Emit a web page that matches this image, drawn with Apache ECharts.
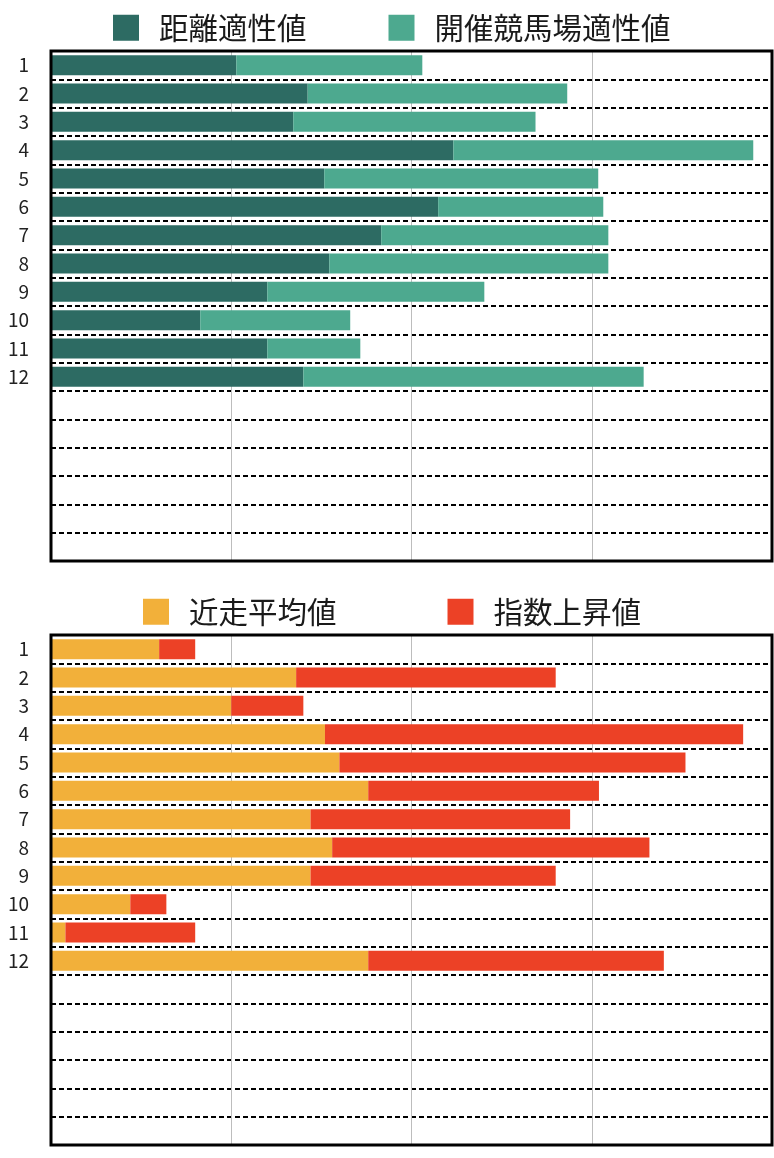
<!DOCTYPE html>
<html>
<head>
<meta charset="utf-8">
<script src="https://cdn.jsdelivr.net/npm/echarts@6/dist/echarts.min.js"></script>
<style>
html,body{margin:0;padding:0;background:#fff;}
#c{width:774px;height:1158px;}
</style>
</head>
<body>
<div id="c"></div>
<script>
// ---- data ----
var categories = ['1','2','3','4','5','6','7','8','9','10','11','12','','','','','',''];
var seriesNamesTop = ['距離適性値','開催競馬場適性値'];
var seriesNamesBottom = ['近走平均値','指数上昇値'];
var distanceFit = [25.7,35.6,33.6,55.8,37.9,53.7,45.8,38.6,30.0,20.7,30.0,35.0];
var courseFit   = [25.8,36.0,33.6,41.6,38.0,22.9,31.5,38.7,30.1,20.8,12.9,47.2];
var recentAvg   = [15,34,25,38,40,44,36,39,36,11,2,44];
var indexRise   = [5,36,10,58,48,32,36,44,34,5,18,41];
var xTicks = [0,25,50,75,100];

var colors = ['#2d6b63','#4da98f','#f2b03a','#ec4126'];
var font = '"Noto Sans CJK JP","Noto Sans",sans-serif';

function yAxis(gi){
  return {
    type:'category', gridIndex:gi, data:categories, inverse:true,
    axisLine:{show:false}, axisTick:{show:false},
    axisLabel:{color:'#222', fontSize:19, fontFamily:font, margin:22},
    splitLine:{show:true, lineStyle:{color:'#000', width:2, type:[5,3]}}
  };
}
function xAxis(gi){
  return {
    type:'value', gridIndex:gi, min:xTicks[0], max:xTicks[xTicks.length-1],
    interval:xTicks[1]-xTicks[0],
    axisLine:{show:false}, axisTick:{show:false}, axisLabel:{show:false},
    splitLine:{show:true, lineStyle:{color:'#bdbdbd', width:1}}
  };
}
function legend(names, left, top, gap){
  return {
    data:names, left:left, top:top, orient:'horizontal', padding:0,
    itemWidth:26, itemHeight:26, itemGap:gap, icon:'rect',
    selectedMode:false,
    textStyle:{color:'#1a1a1a', fontSize:29.5, fontFamily:font, padding:[0,0,0,15]}
  };
}
function bar(name, data, gi, color){
  return {
    name:name, type:'bar', stack:'s'+gi, xAxisIndex:gi, yAxisIndex:gi,
    data:data, barWidth:20, itemStyle:{color:color}, silent:true, animation:false
  };
}

var chart = echarts.init(document.getElementById('c'), null, {renderer:'canvas'});
chart.setOption({
  animation:false,
  legend:[legend(seriesNamesTop, 113, 13, 82), legend(seriesNamesBottom, 143, 597, 111)],
  grid:[
    {left:51, top:51, width:721, height:510, show:true, borderColor:'#000', borderWidth:3, backgroundColor:'transparent', z:3},
    {left:51, top:635, width:721, height:510, show:true, borderColor:'#000', borderWidth:3, backgroundColor:'transparent', z:3}
  ],
  xAxis:[xAxis(0), xAxis(1)],
  yAxis:[yAxis(0), yAxis(1)],
  series:[
    bar(seriesNamesTop[0], distanceFit, 0, colors[0]),
    bar(seriesNamesTop[1], courseFit, 0, colors[1]),
    bar(seriesNamesBottom[0], recentAvg, 1, colors[2]),
    bar(seriesNamesBottom[1], indexRise, 1, colors[3])
  ]
});
</script>
</body>
</html>
